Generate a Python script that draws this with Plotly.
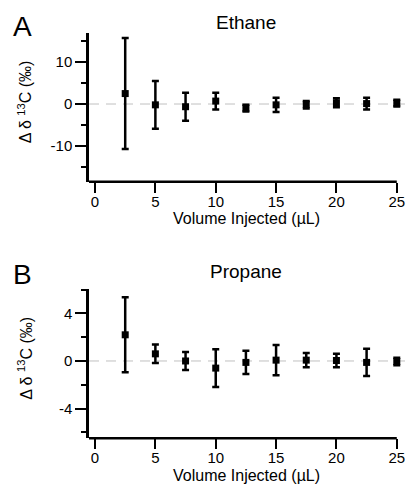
import plotly.graph_objects as go

# ---- data ----
volume = [2.5, 5, 7.5, 10, 12.5, 15, 17.5, 20, 22.5, 25]
ethane_delta = [2.5, -0.2, -0.65, 0.7, -1.0, -0.2, -0.15, 0.3, 0.1, 0.2]
ethane_err = [13.3, 5.7, 3.35, 2.0, 0.8, 1.7, 0.9, 1.1, 1.4, 0.8]
propane_delta = [2.2, 0.6, 0.0, -0.6, -0.12, 0.07, 0.07, 0.04, -0.12, -0.04]
propane_err = [3.15, 0.78, 0.76, 1.58, 0.98, 1.28, 0.6, 0.56, 1.14, 0.32]
x_ticks = [0, 5, 10, 15, 20, 25]
ethane_yticks = [-10, 0, 10]
propane_yticks = [-4, 0, 4]
panel_titles = ["Ethane", "Propane"]
panel_letters = ["A", "B"]
x_title = "Volume Injected (µL)"
y_title = "Δ δ <sup>13</sup>C (‰)"

W, H = 408, 491
FONT = "Liberation Sans, Arial, sans-serif"
x_range = [-0.5, 25.93]

fig = go.Figure()

panels = [
    dict(x="x", y="y", vals=ethane_delta, err=ethane_err, yr=[-18.6, 17.0],
         yt=ethane_yticks, minor=5, top=33, bot=181.7, title_y=22, letter_y=27),
    dict(x="x2", y="y2", vals=propane_delta, err=propane_err, yr=[-6.5, 6.05],
         yt=propane_yticks, minor=2, top=289, bot=438.3, title_y=271, letter_y=274),
]

layout = dict(
    width=W, height=H, margin=dict(l=0, r=0, t=0, b=0, autoexpand=False),
    plot_bgcolor="white", paper_bgcolor="white",
    font=dict(family=FONT, color="black"), showlegend=False,
)
shapes = []
annotations = []

for i, p in enumerate(panels):
    fig.add_trace(go.Scatter(
        x=volume, y=p["vals"], mode="markers",
        marker=dict(symbol="square", size=7, color="black"),
        error_y=dict(type="data", array=p["err"], thickness=2.5, width=3.5, color="black"),
        xaxis=p["x"], yaxis=p["y"], cliponaxis=False,
    ))
    xa_name = "xaxis" if i == 0 else "xaxis2"
    ya_name = "yaxis" if i == 0 else "yaxis2"
    dom_y = [1 - p["bot"] / H, 1 - p["top"] / H]
    layout[xa_name] = dict(
        domain=[89 / W, 1], range=x_range, anchor=p["y"], automargin=False,
        showline=False, showgrid=False, zeroline=False,
        ticks="outside", ticklen=10, tickwidth=2, tickcolor="black",
        tickmode="array", tickvals=x_ticks, ticktext=[str(t) for t in x_ticks],
        tickfont=dict(size=15, family=FONT), ticklabelstandoff=-4,
    )
    layout[ya_name] = dict(
        domain=dom_y, range=p["yr"], anchor=p["x"], automargin=False,
        showline=True, linewidth=2.5, linecolor="black",
        showgrid=False, zeroline=False,
        ticks="outside", ticklen=11, tickwidth=2, tickcolor="black",
        tickmode="array", tickvals=p["yt"], ticktext=[str(t) for t in p["yt"]],
        tickfont=dict(size=15, family=FONT),
        minor=dict(tickmode="linear", tick0=0, dtick=p["minor"], ticks="outside",
                   ticklen=5, tickwidth=2, tickcolor="black", showgrid=False),
    )
    xd = "x domain" if i == 0 else "x2 domain"
    yd = "y domain" if i == 0 else "y2 domain"
    # zero reference line
    shapes.append(dict(type="line", xref=xd, yref=p["y"], x0=0, x1=1, y0=0, y1=0,
                       line=dict(color="#c0c0c0", width=1, dash="10px,7px"), layer="below"))
    # bottom axis line from axis start to x=25
    frac = (x_ticks[-1] - x_range[0]) / (x_range[1] - x_range[0])
    shapes.append(dict(type="line", xref=xd, yref=yd, x0=0, x1=frac, y0=0, y1=0,
                       line=dict(color="black", width=2.5)))
    annotations.append(dict(text=panel_titles[i], xref="paper", yref="paper",
                            x=246 / W, y=1 - p["title_y"] / H, showarrow=False,
                            xanchor="center", yanchor="middle",
                            font=dict(size=19, family=FONT)))
    annotations.append(dict(text=panel_letters[i], xref="paper", yref="paper",
                            x=11 / W, y=1 - p["letter_y"] / H, showarrow=False,
                            xanchor="left", yanchor="middle",
                            font=dict(size=28, family=FONT)))
    # axis titles
    annotations.append(dict(text=x_title, xref="paper", yref="paper",
                            x=246 / W, y=1 - (p["bot"] + 37) / H, showarrow=False,
                            xanchor="center", yanchor="middle",
                            font=dict(size=16, family=FONT)))
    annotations.append(dict(text=y_title, xref="paper", yref="paper", textangle=-90,
                            x=25 / W, y=1 - ((p["top"] + p["bot"]) / 2 - 5) / H,
                            showarrow=False, xanchor="center", yanchor="middle",
                            font=dict(size=16, family=FONT)))

layout["shapes"] = shapes
layout["annotations"] = annotations
fig.update_layout(**layout)
fig.write_html("out.html", config={"displayModeBar": False},
               post_script="document.body.style.margin='0';document.body.style.padding='0';")
